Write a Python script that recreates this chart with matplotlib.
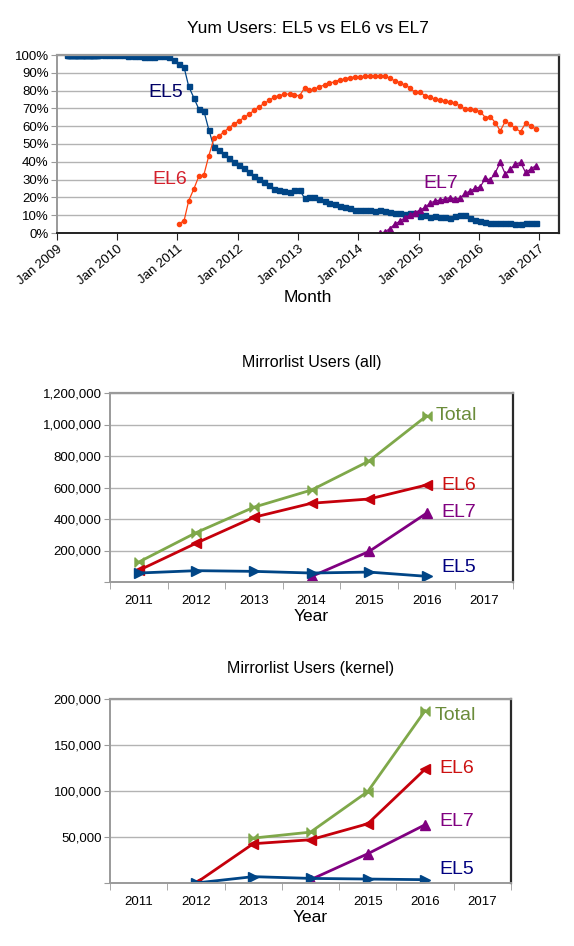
import matplotlib
matplotlib.use("Agg")
import matplotlib.pyplot as plt
import matplotlib.dates as mdates
from matplotlib.path import Path
from matplotlib.ticker import FuncFormatter, FixedLocator
import numpy as np
import pandas as pd

plt.rcParams["font.family"] = ["Liberation Sans", "DejaVu Sans"]

# %% data: yum users share (percent), monthly
el5_early = [100] * 28  # weekly samples Mar-Sep 2009
el5_monthly = [
    100, 100, 100, 100, 99.8, 99.7, 99.5, 99.2, 99.0, 98.6, 98.6, 99.3, 99.4, 99.0,
    97.2, 95.0, 93.1, 82.4, 76.0, 69.7, 68.6, 58.0, 48.2, 46.9, 44.3, 41.9, 39.8,
    38.2, 36.3, 34.5, 32.2, 30.3, 28.5, 27.0, 24.7, 24.2, 23.6, 23.2, 24.2, 24.2,
    19.5, 20.4, 20.4, 18.9, 18.0, 17.0, 16.1, 15.2, 14.4, 13.9, 12.9, 12.9, 12.9,
    12.9, 12.5, 12.9, 12.4, 11.8, 11.2, 11.0, 10.7, 11.0, 11.2, 9.7, 10.1, 9.2,
    9.7, 9.0, 9.2, 8.2, 9.7, 10.1, 10.1, 8.2, 7.3, 6.9, 6.4, 5.8, 5.8, 5.4, 5.8,
    5.4, 5.1, 4.9, 5.8, 5.4, 5.4,
]
el6_monthly = [
    5.2, 6.9, 18.1, 24.7, 31.8, 32.7, 43.4, 53.1, 54.6, 56.8, 59.2, 61.2, 63.1,
    64.9, 66.8, 68.9, 71.0, 72.8, 74.5, 76.4, 77.2, 77.9, 78.1, 77.5, 77.1, 81.6,
    80.3, 80.7, 82.2, 83.1, 84.1, 85.0, 86.0, 86.5, 87.3, 87.6, 87.8, 88.0, 88.0,
    88.0, 88.0, 88.4, 87.0, 85.5, 84.5, 83.1, 81.6, 79.0, 79.0, 77.2, 76.2, 75.1,
    74.7, 74.2, 73.4, 72.8, 71.5, 69.5, 69.5, 69.1, 68.2, 64.8, 65.4, 62.0, 57.3,
    62.9, 61.0, 58.8, 56.9, 61.6, 60.3, 58.4,
]
el7_monthly = [
    0.0, 0.5, 2.5, 4.9, 6.7, 8.6, 10.1, 11.4, 12.9, 14.4, 16.7, 18.0, 18.5, 19.1,
    19.9, 19.1, 19.5, 22.3, 23.6, 25.1, 26.0, 30.7, 29.8, 33.9, 39.7, 33.0, 35.8,
    38.6, 39.7, 34.1, 35.8, 37.8,
]
el5_start, el6_start, el7_start = "2009-10-01", "2011-01-01", "2014-05-01"

# %% data: mirrorlist users per year
years = ["2011", "2012", "2013", "2014", "2015", "2016", "2017"]
all_total = [126600, 314000, 475000, 584000, 768000, 1055000]
all_el6 = [74000, 247000, 411000, 500000, 527000, 616000]
all_el7 = [None, None, None, 35000, 194000, 437000]
all_el5 = [57000, 72000, 67500, 57000, 63000, 36000]

kern_total = [None, None, 48800, 55300, 99400, 187300]
kern_el6 = [None, 0, 42700, 47000, 64400, 123700]
kern_el7 = [None, None, None, 3600, 31800, 63300]
kern_el5 = [None, 0, 6900, 5000, 4300, 3600]

W, H = 574, 946
fig = plt.figure(figsize=(W / 100, H / 100), dpi=100)


def px_axes(left, top, right, bottom):
    return fig.add_axes([left / W, 1 - bottom / H, (right - left) / W, (bottom - top) / H])


def frame(ax, bottom_color):
    ax.set_facecolor("white")
    ax.spines["left"].set_color("#9a9a9a")
    ax.spines["left"].set_linewidth(1.4)
    ax.spines["top"].set_color("#9a9a9a")
    ax.spines["top"].set_linewidth(1.6)
    ax.spines["right"].set_color("#2a2a2a")
    ax.spines["right"].set_linewidth(1.6)
    ax.spines["bottom"].set_color(bottom_color)
    ax.spines["bottom"].set_linewidth(1.4)
    ax.grid(axis="y", color="#b3b3b3", linewidth=1)
    ax.set_axisbelow(True)
    ax.tick_params(axis="y", length=4, color="#9a9a9a", labelsize=9.5, pad=2)


# %% top chart
ax1 = px_axes(57, 55, 559, 233)
frame(ax1, "#222222")


def monthly_dates(start, n):
    return pd.date_range(start, periods=n, freq="MS") + pd.Timedelta(days=9)


d_el5 = list(pd.date_range("2009-03-01", periods=len(el5_early), freq="7D")) + list(
    monthly_dates(el5_start, len(el5_monthly))
)
ax1.plot(d_el5, el5_early + el5_monthly, color="#004586", lw=0.9,
         marker="s", ms=3.6, mec="#004586", mfc="#004586")
ax1.plot(monthly_dates(el6_start, len(el6_monthly)), el6_monthly, color="#ff420e",
         lw=0.9, marker="o", ms=3.0)
ax1.plot(monthly_dates(el7_start, len(el7_monthly)), el7_monthly, color="#7e0080",
         lw=0.9, marker="^", ms=3.8)

ax1.set_ylim(0, 100)
ax1.set_yticks(range(0, 101, 10))
ax1.yaxis.set_major_formatter(FuncFormatter(lambda v, p: f"{v:.0f}%"))
ax1.set_xlim(pd.Timestamp("2009-01-01"), pd.Timestamp("2017-05-01"))
ax1.xaxis.set_major_locator(mdates.YearLocator())
ax1.xaxis.set_major_formatter(mdates.DateFormatter("Jan %Y"))
ax1.tick_params(axis="x", length=5, color="#222222", labelsize=9.5, pad=2)
for lab in ax1.get_xticklabels():
    lab.set_rotation(40)
    lab.set_ha("right")
    lab.set_rotation_mode("anchor")
ax1.set_xlabel("Month", fontsize=12.5, labelpad=2)
ax1.set_title("Yum Users: EL5 vs EL6 vs EL7", fontsize=12.5, pad=16)

ax1.text(pd.Timestamp("2010-10-25"), 79, "EL5", color="#000066", fontsize=14,
         ha="center", va="center")
ax1.text(pd.Timestamp("2010-11-15"), 30, "EL6", color="#d4202c", fontsize=14,
         ha="center", va="center")
ax1.text(pd.Timestamp("2015-05-15"), 28, "EL7", color="#800080", fontsize=14,
         ha="center", va="center")

# %% mirrorlist charts
bowtie = Path([(-1, -1), (0, 0), (-1, 1), (-1, -1), (1, -1), (0, 0), (1, 1), (1, -1)],
              [Path.MOVETO, Path.LINETO, Path.LINETO, Path.CLOSEPOLY,
               Path.MOVETO, Path.LINETO, Path.LINETO, Path.CLOSEPOLY])

series_style = [
    ("Total", "#7fa84a", "#6b8c3a", bowtie, 5.16),
    ("EL6", "#c5000b", "#cc1111", "<", 5.25),
    ("EL7", "#800080", "#800080", "^", 5.25),
    ("EL5", "#004586", "#000080", ">", 5.25),
]


def mirror_chart(ax, data, ymax, ystep, title, label_y):
    frame(ax, "#9a9a9a")
    xs = np.arange(len(years) - 1)
    for (name, lc, tc, mk, lx), vals, ly in zip(series_style, data, label_y):
        v = np.array([np.nan if x is None else x for x in vals], dtype=float)
        ax.plot(xs, v, color=lc, lw=2.0, marker=mk, ms=6.5, mec=lc, mfc=lc)
        ax.text(lx, ly, name, color=tc, fontsize=14, ha="left", va="center")
    ax.set_xlim(-0.5, len(years) - 0.5)
    ax.set_ylim(0, ymax)
    ax.set_yticks(np.arange(0, ymax + 1, ystep))
    ax.yaxis.set_major_formatter(
        FuncFormatter(lambda v, p: "" if v == 0 else f"{v:,.0f}"))
    ax.set_xticks(np.arange(len(years)))
    ax.set_xticklabels(years)
    ax.xaxis.set_minor_locator(FixedLocator(np.arange(-0.5, len(years), 1.0)))
    ax.tick_params(axis="x", which="major", length=0, labelsize=9.5, pad=9)
    ax.tick_params(axis="x", which="minor", length=5, color="#9a9a9a")
    ax.set_xlabel("Year", fontsize=12.5, labelpad=2)
    ax.set_title(title, fontsize=11.5, pad=19)


ax2 = px_axes(110, 393, 513, 582)
mirror_chart(ax2, [all_total, all_el6, all_el7, all_el5], 1200000, 200000,
             "Mirrorlist Users (all)", [1055000, 614000, 444000, 95000])

ax3 = px_axes(110, 699, 511, 883)
mirror_chart(ax3, [kern_total, kern_el6, kern_el7, kern_el5], 200000, 50000,
             "Mirrorlist Users (kernel)", [182600, 124800, 66900, 14500])

fig.savefig("out.png", dpi=100)
